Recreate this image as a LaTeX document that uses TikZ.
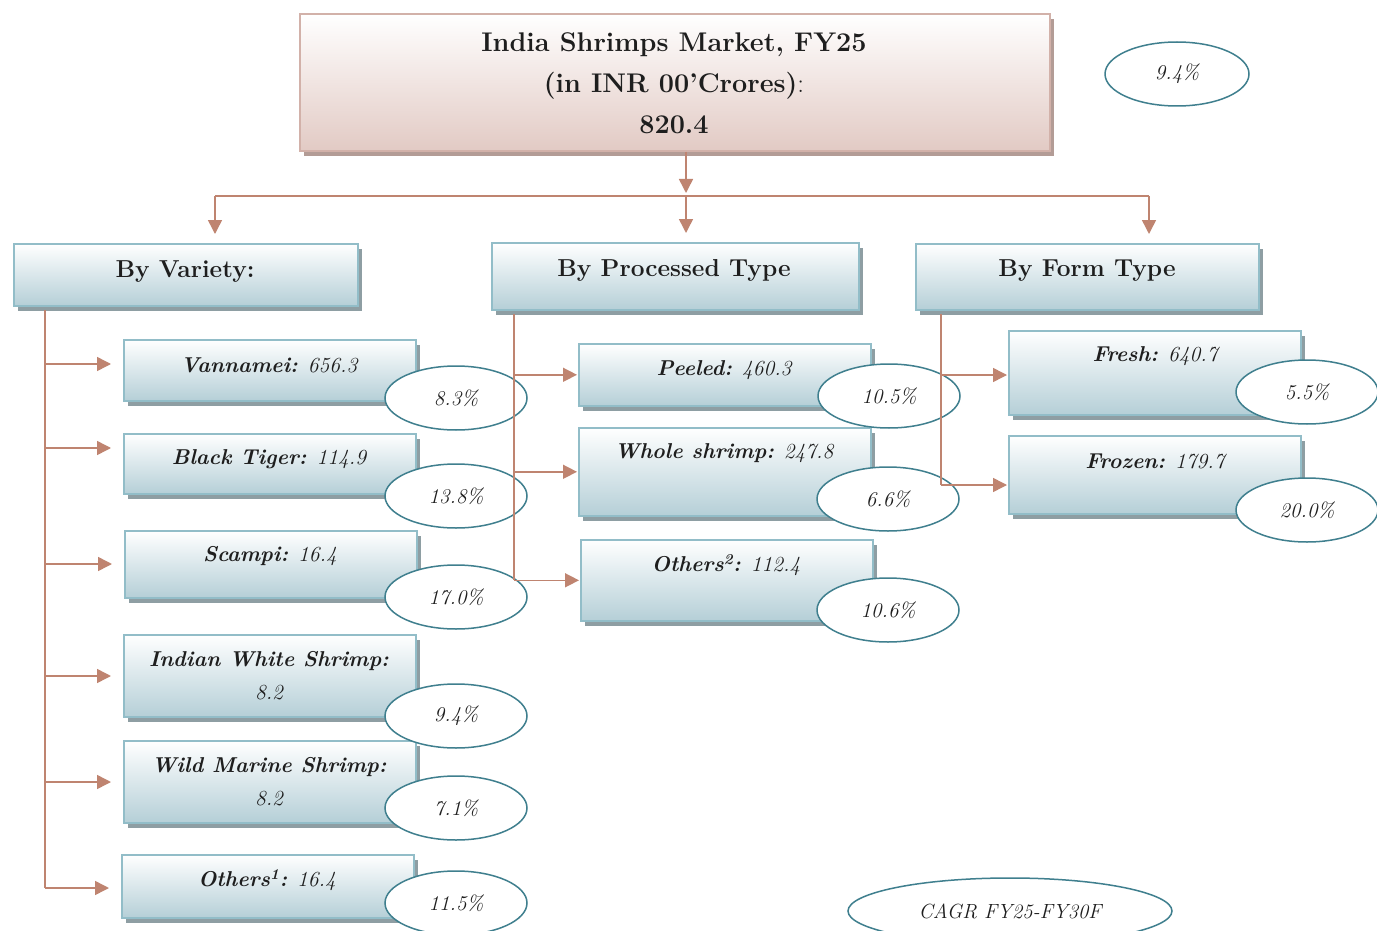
\documentclass[tikz,border=0pt]{standalone}
\usepackage{fontspec}
\usetikzlibrary{arrows.meta,shapes.geometric,shadows}
\definecolor{boxedge}{HTML}{92BDC8}
\definecolor{boxbot}{HTML}{B5CFD7}
\definecolor{boxshadow}{HTML}{8E9EA3}
\definecolor{titleedge}{HTML}{D2B1A9}
\definecolor{titlebot}{HTML}{E2CAC4}
\definecolor{titleshadow}{HTML}{B39C96}
\definecolor{conn}{HTML}{BF8470}
\definecolor{elledge}{HTML}{3F7F8E}
\definecolor{txt}{HTML}{1E1E1E}
\tikzset{
  cbox/.style={draw=boxedge, line width=1.6pt, top color=white, bottom color=boxbot,
    drop shadow={shadow xshift=4pt, shadow yshift=-5pt, fill=boxshadow, opacity=1},
    inner sep=0pt, anchor=north west},
  tbox/.style={draw=titleedge, line width=1.6pt, top color=white, bottom color=titlebot,
    drop shadow={shadow xshift=4pt, shadow yshift=-5pt, fill=titleshadow, opacity=1},
    inner sep=0pt, anchor=north west},
  pct/.style={ellipse, draw=elledge, line width=1.5pt, fill=white, inner sep=0pt,
    minimum width=142pt, minimum height=64pt, font=\fontsize{21}{23}\selectfont\itshape, text=txt},
  arr/.style={draw=conn, line width=1.5pt, -{Triangle[length=14pt,width=14pt]}},
  ln/.style={draw=conn, line width=1.5pt},
  lbl/.style={font=\fontsize{21.5}{33}\selectfont\itshape, text=txt, align=center, inner sep=0pt},
  hdr/.style={font=\fontsize{24.5}{30}\selectfont\bfseries, text=txt, inner sep=0pt},
}
\begin{document}
\begin{tikzpicture}[x=1pt,y=-1pt]
\useasboundingbox[fill=white] (0,0) rectangle (1377,931);

% title
\node[tbox, minimum width=750pt, minimum height=137pt] (title) at (299,13) {};
\node[font=\fontsize{27}{41}\selectfont\bfseries, text=txt, align=center, inner sep=0pt] (ttext) at (674,83)
  {India Shrimps Market, FY25\\(in INR 00'Crores){\mdseries:}\\820.4};
\node[pct, minimum width=144pt] (toppct) at (1177,74) {9.4\%};

% level 2
\node[cbox, minimum width=344pt, minimum height=62pt] (var) at (13,243) {};
\node[hdr] (vart) at (185,272) {By Variety:};
\node[cbox, minimum width=367pt, minimum height=67pt] (proc) at (491,242) {};
\node[hdr] (proct) at (674,270) {By Processed Type};
\node[cbox, minimum width=343pt, minimum height=66pt] (form) at (915,243) {};
\node[hdr] (formt) at (1087,271) {By Form Type};

% variety children
\node[cbox, minimum width=292pt, minimum height=61pt] (vann) at (123,339) {};
\node[lbl] (vannt) at (269,365) {\textbf{Vannamei:} 656.3};
\node[cbox, minimum width=292pt, minimum height=60pt] (btig) at (123,433) {};
\node[lbl] (btigt) at (269,459) {\textbf{Black Tiger:} 114.9};
\node[cbox, minimum width=292pt, minimum height=67pt] (scam) at (124,530) {};
\node[lbl] (scamt) at (270,556) {\textbf{Scampi:} 16.4};
\node[cbox, minimum width=292pt, minimum height=82pt] (iws) at (123,634) {};
\node[lbl] (iwst) at (269,676) {\textbf{Indian White Shrimp:}\\8.2};
\node[cbox, minimum width=292pt, minimum height=82pt] (wms) at (123,740) {};
\node[lbl] (wmst) at (269,782) {\textbf{Wild Marine Shrimp:}\\8.2};
\node[cbox, minimum width=292pt, minimum height=63pt] (oth1) at (121,854) {};
\node[lbl] (oth1t) at (267,880) {\textbf{Others\textsuperscript{1}:} 16.4};

% processed children
\node[cbox, minimum width=292pt, minimum height=62pt] (peel) at (578,343) {};
\node[lbl] (peelt) at (724,370) {\textbf{Peeled:} 460.3};
\node[cbox, minimum width=292pt, minimum height=88pt] (whole) at (578,427) {};
\node[lbl] (wholet) at (724,453) {\textbf{Whole shrimp:} 247.8};
\node[cbox, minimum width=292pt, minimum height=81pt] (oth2) at (580,539) {};
\node[lbl] (oth2t) at (726,565) {\textbf{Others\textsuperscript{2}:} 112.4};

% form children
\node[cbox, minimum width=292pt, minimum height=84pt] (fresh) at (1008,330) {};
\node[lbl] (fresht) at (1155,356) {\textbf{Fresh:} 640.7};
\node[cbox, minimum width=292pt, minimum height=78pt] (froz) at (1008,435) {};
\node[lbl] (frozt) at (1155,461) {\textbf{Frozen:} 179.7};

% percentage ellipses
\node[pct] (e1) at (456,398) {8.3\%};
\node[pct] (e2) at (456,496) {13.8\%};
\node[pct] (e3) at (456,597) {17.0\%};
\node[pct] (e4) at (456,716) {9.4\%};
\node[pct] (e5) at (456,808) {7.1\%};
\node[pct] (e6) at (456,903) {11.5\%};
\node[pct] (p1) at (889,396) {10.5\%};
\node[pct] (p2) at (888,499) {6.6\%};
\node[pct] (p3) at (888,610) {10.6\%};
\node[pct] (f1) at (1307,392) {5.5\%};
\node[pct] (f2) at (1307,510) {20.0\%};
\node[pct, minimum width=324pt, minimum height=66pt, font=\fontsize{20.5}{22}\selectfont\itshape] (cagr) at (1010,911) {CAGR FY25-FY30F};

% top connectors
\coordinate (hub) at (686,196);
\coordinate (hl) at (215,196);
\coordinate (hr) at (1149,196);
\draw[arr, shorten >=3pt] (title.south -| hub) -- (hub);
\draw[ln] (hl) -- (hr);
\draw[arr, shorten >=9pt] (hl) -- (hl |- var.north);
\draw[arr, shorten >=9pt] (hub) -- (hub |- proc.north);
\draw[arr, shorten >=9pt] (hr) -- (hr |- form.north);

% variety trunk
\coordinate (vt) at (45,310);
\coordinate (v1) at (45,364);
\coordinate (v2) at (45,448);
\coordinate (v3) at (45,564);
\coordinate (v4) at (45,676);
\coordinate (v5) at (45,782);
\coordinate (v6) at (45,888);
\draw[ln] (vt) -- (v6);
\draw[arr, shorten >=12pt] (v1) -- (v1 -| vann.west);
\draw[arr, shorten >=12pt] (v2) -- (v2 -| btig.west);
\draw[arr, shorten >=12pt] (v3) -- (v3 -| scam.west);
\draw[arr, shorten >=12pt] (v4) -- (v4 -| iws.west);
\draw[arr, shorten >=12pt] (v5) -- (v5 -| wms.west);
\draw[arr, shorten >=12pt] (v6) -- (v6 -| oth1.west);

% processed trunk
\coordinate (pt0) at (514,314);
\draw[ln] (pt0) -- (pt0 |- oth2.west);
\draw[arr, shorten >=1pt] (pt0 |- peel.west) -- (peel.west);
\draw[arr, shorten >=1pt] (pt0 |- whole.west) -- (whole.west);
\draw[arr, shorten >=1pt] (pt0 |- oth2.west) -- (oth2.west);

% form trunk
\coordinate (ft0) at (941,314);
\coordinate (fa) at (941,375);
\coordinate (fb) at (941,485);
\draw[ln] (ft0) -- (fb);
\draw[arr, shorten >=1pt] (fa) -- (fa -| fresh.west);
\draw[arr, shorten >=1pt] (fb) -- (fb -| froz.west);
\end{tikzpicture}
\end{document}
